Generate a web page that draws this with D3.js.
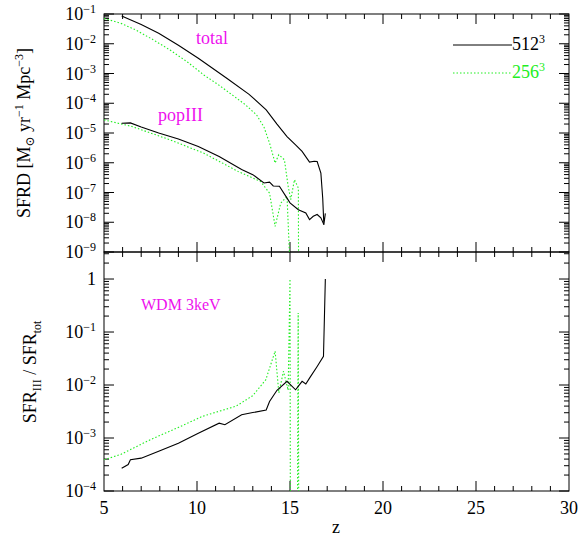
<!DOCTYPE html>
<html><head><meta charset="utf-8">
<script src="https://cdn.jsdelivr.net/npm/d3@7"></script>
<style>body{margin:0;background:#fff}text{font-family:"Liberation Serif","DejaVu Serif",serif}</style>
</head><body>
<svg id="c" width="584" height="538"></svg>
<script>
// log10 values
var zHiTot   = [5.95,7.0,7.94,9.0,10.07,11.6,12.8,13.72,14.3,14.84,15.3,15.65,16.05,16.3,16.46,16.66,16.76,16.82,16.9];
var hiTot    = [-1.07,-1.35,-1.65,-2.05,-2.49,-3.16,-3.7,-4.22,-4.7,-5.12,-5.4,-5.62,-5.98,-5.95,-5.96,-6.35,-7.2,-8.08,-7.7];
var zLoTot   = [5,5.9,6.72,7.6,8.55,9.5,10.37,11.2,12.0,12.6,13.2,13.6,13.9,14.2,14.4,14.7,14.9,15.04,15.24,15.45,15.46];
var loTot    = [-1.15,-1.31,-1.54,-1.85,-2.21,-2.62,-3.05,-3.4,-3.77,-4.05,-4.39,-4.8,-5.34,-6.01,-5.73,-5.9,-6.79,-7.24,-6.57,-6.85,-9.5];
var zHiIII   = [5.95,6.42,7.0,7.94,9.0,10.07,11.19,12.4,13.0,13.6,13.9,14.1,14.43,14.84,15.0,15.45,15.85,16.05,16.25,16.46,16.66,16.82];
var hiIII    = [-4.67,-4.66,-4.8,-5.0,-5.2,-5.45,-5.79,-6.23,-6.4,-6.68,-6.65,-6.78,-6.79,-7.19,-7.35,-7.58,-7.69,-7.91,-7.8,-7.74,-7.85,-8.08];
var zLoIII   = [5,6.5,8.55,10.37,12.2,13.42,13.9,14.2,14.5,14.84,15.0];
var loIII    = [-4.56,-4.78,-5.23,-5.68,-6.29,-6.63,-7.02,-8.14,-7.36,-7.13,-9.5];
var zHiRat   = [5.95,6.3,6.42,7.0,7.94,9.0,10.07,11.19,11.5,12.4,13.0,13.72,13.9,14.3,14.84,15.3,15.65,15.85,16.05,16.46,16.8,16.9];
var hiRat    = [-3.57,-3.5,-3.41,-3.38,-3.25,-3.1,-2.91,-2.72,-2.75,-2.56,-2.52,-2.47,-2.31,-2.1,-1.93,-2.09,-1.93,-1.98,-1.87,-1.65,-1.46,0];
var zLoRat   = [5,5.9,7.5,9.0,10.3,12.1,13.0,13.7,14.2,14.4,14.65,14.9,15.0,15.02,15.4,15.44,15.47];
var loRat    = [-3.41,-3.31,-3.03,-2.8,-2.59,-2.40,-2.2,-1.90,-1.36,-2.15,-1.74,-2.1,0,-4.5,-4.5,-0.64,-4.5];

var svg = d3.select("#c");
var x = d3.scaleLinear().domain([5,30]).range([104,569]);
var yTop = d3.scaleLinear().domain([-9,-1]).range([252,14]);
var yBot = d3.scaleLinear().domain([-4,0.51]).range([491,252]);

svg.append("clipPath").attr("id","cpT").append("rect").attr("x",104).attr("y",14).attr("width",465).attr("height",238);
svg.append("clipPath").attr("id","cpB").append("rect").attr("x",104).attr("y",252).attr("width",465).attr("height",239);

function sup(sel, base, exp){
  sel.append("tspan").text(base);
  if (exp) sel.append("tspan").attr("dy",-7).attr("font-size","12px").text(exp);
}

function panel(y, lo, hi, labels){
  var g = svg.append("g");
  var top = y.range()[1], bot = y.range()[0];
  g.append("rect").attr("x",104).attr("y",top).attr("width",465).attr("height",bot-top)
    .attr("fill","none").attr("stroke","#000");
  // x ticks
  d3.range(6,30).forEach(function(z){
    var L = z%5==0 ? 10 : 5;
    g.append("line").attr("x1",x(z)).attr("x2",x(z)).attr("y1",bot).attr("y2",bot-L).attr("stroke","#000");
    g.append("line").attr("x1",x(z)).attr("x2",x(z)).attr("y1",top).attr("y2",top+L).attr("stroke","#000");
  });
  // y ticks
  for (var d=Math.floor(lo); d<=Math.ceil(hi); d++){
    for (var m=1; m<10; m++){
      var v = d + Math.log10(m);
      if (v<lo-1e-6 || v>hi+1e-6) continue;
      var L = m==1 ? 10 : 5;
      [[104,104+L],[569,569-L]].forEach(function(p){
        g.append("line").attr("x1",p[0]).attr("x2",p[1]).attr("y1",y(v)).attr("y2",y(v)).attr("stroke","#000");
      });
    }
  }
  labels.forEach(function(d){
    var t = g.append("text").attr("x",96).attr("y",y(d)+6).attr("text-anchor","end").attr("font-size","18px");
    if (d==0) t.text("1"); else sup(t,"10",(d<0?"\u2212":"")+Math.abs(d));
  });
}
panel(yTop,-9,-1,[-1,-2,-3,-4,-5,-6,-7,-8,-9]);
panel(yBot,-4,0.51,[0,-1,-2,-3,-4]);

svg.selectAll(".xl").data([5,10,15,20,25,30]).enter().append("text")
  .attr("x",function(d){return x(d);}).attr("y",514).attr("text-anchor","middle").attr("font-size","18px").text(function(d){return d;});
svg.append("text").attr("x",336).attr("y",533).attr("text-anchor","middle").attr("font-size","18px").text("z");

function curve(zs, vs, y, cp, col, dash){
  var line = d3.line().x(function(d){return x(d[0]);}).y(function(d){return y(d[1]);});
  svg.append("path").datum(zs.map(function(z,i){return [z,vs[i]];}))
    .attr("d",line).attr("fill","none").attr("stroke",col).attr("stroke-width",1.1)
    .attr("stroke-dasharray",dash).attr("clip-path","url(#"+cp+")");
}
var G = "#22ee22";
curve(zLoTot,loTot,yTop,"cpT",G,"1.5,2");
curve(zLoIII,loIII,yTop,"cpT",G,"1.5,2");
curve(zHiTot,hiTot,yTop,"cpT","#000",null);
curve(zHiIII,hiIII,yTop,"cpT","#000",null);
curve(zLoRat,loRat,yBot,"cpB",G,"1.5,2");
curve(zHiRat,hiRat,yBot,"cpB","#000",null);

// labels
var M = "#ee11ee";
svg.append("text").attr("x",196).attr("y",44).attr("font-size","18px").attr("fill",M).text("total");
svg.append("text").attr("x",158).attr("y",121).attr("font-size","18px").attr("fill",M).text("popIII");
svg.append("text").attr("x",141).attr("y",310).attr("font-size","16px").attr("fill",M).attr("font-family","DejaVu Sans Mono").text("WDM 3keV");

// legend
svg.append("line").attr("x1",453).attr("x2",512).attr("y1",45).attr("y2",45).attr("stroke","#000");
sup(svg.append("text").attr("x",512).attr("y",50).attr("font-size","18px"),"512","3");
svg.append("line").attr("x1",453).attr("x2",512).attr("y1",73).attr("y2",73).attr("stroke",G).attr("stroke-dasharray","1.5,2");
sup(svg.append("text").attr("x",512).attr("y",78).attr("font-size","18px").attr("fill",G),"256","3");

// y titles
var t1 = svg.append("text").attr("transform","translate(30,133) rotate(-90)").attr("text-anchor","middle").attr("font-size","18px");
t1.append("tspan").text("SFRD [M");
t1.append("tspan").attr("font-size","12px").attr("dy",4).text("\u2299");
t1.append("tspan").attr("dy",-4).text(" yr");
t1.append("tspan").attr("dy",-7).attr("font-size","12px").text("\u22121");
t1.append("tspan").attr("dy",7).text(" Mpc");
t1.append("tspan").attr("dy",-7).attr("font-size","12px").text("\u22123");
t1.append("tspan").attr("dy",7).text("]");
var t2 = svg.append("text").attr("transform","translate(36,372) rotate(-90)").attr("text-anchor","middle").attr("font-size","18px");
t2.append("tspan").text("SFR");
t2.append("tspan").attr("font-size","12px").attr("dy",5).text("III");
t2.append("tspan").attr("dy",-5).text(" / SFR");
t2.append("tspan").attr("font-size","12px").attr("dy",5).text("tot");
</script>
</body></html>
